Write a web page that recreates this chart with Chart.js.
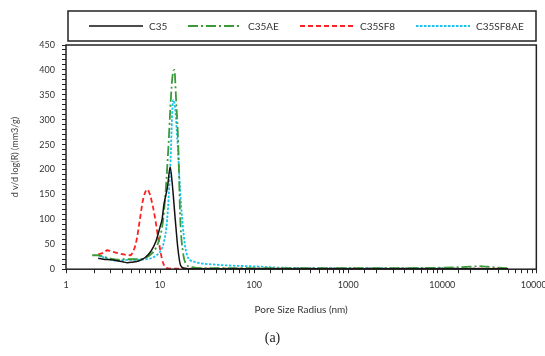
<!DOCTYPE html>
<html>
<head>
<meta charset="utf-8">
<script src="https://cdn.jsdelivr.net/npm/chart.js@4.4.0/dist/chart.umd.min.js"></script>
<style>
    html, body { margin: 0; padding: 0; background: #fff; overflow: hidden; }
    #wrap { position: relative; width: 558px; height: 356px; }
    #caption { position: absolute; left: 0; width: 545px; top: 330px; text-align: center;
        font-family: 'Liberation Serif', serif; font-size: 14px; color: #222; }
</style>
</head>
<body>
<div id="wrap">
    <canvas id="psdChart" width="558" height="356"></canvas>
    <div id="caption">(a)</div>
</div>
<script>
// pore size radius (nm) / dv/dlog(R)
const seriesNames = ['C35', 'C35AE', 'C35SF8', 'C35SF8AE'];

const c35X = [2.2, 2.5, 3, 3.5, 4, 4.5, 5, 6, 7, 8, 9, 10, 10.5, 11, 12, 12.8, 13.5, 14.5, 15.5, 16.5, 18, 20, 30, 100, 1000, 10000, 50000];
const c35Y = [22, 20, 19, 17, 15, 13, 14, 17, 24, 36, 55, 85, 100, 130, 165, 205, 170, 100, 40, 8, 2, 1, 1, 1, 1, 1, 1];

const c35aeX = [1.9, 2.2, 2.5, 3, 3.5, 4, 5, 6, 7, 8, 9, 10, 10.8, 11.5, 12.3, 13, 13.6, 14.2, 14.8, 15.6, 16.4, 17.5, 19, 22, 30, 100, 1000, 10000, 15000, 20000, 25000, 30000, 40000, 50000];
const c35aeY = [28, 28, 25, 21, 19, 20, 20, 20, 23, 30, 42, 65, 100, 160, 250, 340, 390, 400, 340, 250, 100, 35, 10, 4, 2, 2, 2, 3, 4, 5, 6, 5, 3, 2];

const c35sf8X = [2.2, 2.5, 2.75, 3, 3.6, 4, 4.8, 5.3, 5.7, 6.1, 6.6, 7.3, 7.8, 8.4, 8.9, 9.6, 10.5, 11.5, 13, 20, 100, 1000, 10000, 50000];
const c35sf8Y = [30, 33, 38, 36, 32, 30, 28, 40, 64, 100, 140, 160, 150, 125, 100, 60, 20, 3, 1, 1, 1, 1, 1, 1];

const c35sf8aeX = [2.2, 2.5, 3, 3.5, 4, 5, 6, 7, 8, 9, 10, 11, 11.9, 12.8, 13.8, 14.5, 15.5, 16.3, 17.2, 18.5, 20, 23, 27, 40, 60, 92, 200, 1000, 10000, 30000];
const c35sf8aeY = [28, 24, 19, 17, 18, 19, 19, 20, 22, 27, 35, 55, 100, 200, 340, 320, 240, 160, 100, 45, 22, 15, 12, 9, 7, 6, 3, 2, 2, 1];

const yTicksMajor = [0, 50, 100, 150, 200, 250, 300, 350, 400, 450];
const xTicksMajor = [1, 10, 100, 1000, 10000, 100000];

function toPoints(xs, ys) {
    return xs.map((x, i) => ({ x: x, y: ys[i] }));
}

const lineStyles = [
    { color: '#111111', dash: [], width: 1.5 },
    { color: '#3a9a3a', dash: [10, 3, 2, 3], width: 1.8 },
    { color: '#ff2020', dash: [5, 3], width: 1.8 },
    { color: '#19c3f0', dash: [2.5, 1.5], width: 1.8 }
];

// legend in a framed box above the plot + frame round the plot area
const framePlugin = {
    id: 'frame',
    afterDraw(chart) {
        const ctx = chart.ctx;
        const a = chart.chartArea;
        ctx.save();
        ctx.strokeStyle = '#222';
        ctx.lineWidth = 1.5;
        ctx.strokeRect(a.left, a.top, a.right - a.left, a.bottom - a.top);

        ctx.lineWidth = 1.5;
        ctx.strokeRect(68, 11, 468, 30);

        const itemX = [89, 188, 300, 416];
        ctx.font = '10px Lato';
        ctx.textBaseline = 'middle';
        seriesNames.forEach((name, i) => {
            const s = lineStyles[i];
            ctx.beginPath();
            ctx.setLineDash(s.dash);
            ctx.strokeStyle = s.color;
            ctx.lineWidth = s.width;
            ctx.moveTo(itemX[i], 26);
            ctx.lineTo(itemX[i] + 54, 26);
            ctx.stroke();
            ctx.setLineDash([]);
            ctx.fillStyle = '#333';
            ctx.fillText(name, itemX[i] + 60, 26.5);
        });
        ctx.restore();
    }
};

document.addEventListener('DOMContentLoaded', function () {
    const ctx = document.getElementById('psdChart').getContext('2d');

    new Chart(ctx, {
        type: 'scatter',
        data: {
            datasets: [
                [c35X, c35Y], [c35aeX, c35aeY], [c35sf8X, c35sf8Y], [c35sf8aeX, c35sf8aeY]
            ].map((d, i) => ({
                label: seriesNames[i],
                data: toPoints(d[0], d[1]),
                showLine: true,
                borderColor: lineStyles[i].color,
                borderDash: lineStyles[i].dash,
                borderWidth: lineStyles[i].width,
                pointRadius: 0,
                cubicInterpolationMode: 'monotone',
                fill: false
            }))
        },
        options: {
            responsive: false,
            animation: false,
            layout: { padding: { top: 45, bottom: 40, left: 10, right: 0 } },
            plugins: {
                legend: { display: false },
                tooltip: { enabled: false }
            },
            scales: {
                x: {
                    type: 'logarithmic',
                    min: 1,
                    max: 100000,
                    border: { display: false },
                    grid: {
                        drawOnChartArea: false,
                        tickLength: 4,
                        tickColor: '#222',
                        tickWidth: 1
                    },
                    ticks: {
                        autoSkip: false,
                        maxRotation: 0,
                        color: '#333',
                        font: { family: 'Lato', size: 9 },
                        padding: 6,
                        callback: function (v) {
                            return xTicksMajor.includes(v) ? String(v) : '';
                        }
                    },
                    title: {
                        display: true,
                        text: 'Pore Size Radius (nm)',
                        color: '#333',
                        font: { family: 'Lato', size: 10 },
                        padding: { top: 8, bottom: 0 }
                    }
                },
                y: {
                    min: 0,
                    max: 450,
                    border: { display: false },
                    afterFit: function (scale) { scale.width = 56; },
                    grid: {
                        drawOnChartArea: false,
                        tickLength: 4,
                        tickColor: '#222',
                        tickWidth: 1
                    },
                    ticks: {
                        stepSize: 10,
                        autoSkip: false,
                        color: '#333',
                        font: { family: 'Lato', size: 9 },
                        padding: 7,
                        callback: function (v) {
                            return yTicksMajor.includes(v) ? String(v) : '';
                        }
                    },
                    title: {
                        display: true,
                        text: 'd v/d log(R) (mm3/g)',
                        color: '#444',
                        font: { family: 'Lato', size: 9 },
                        padding: { top: 0, bottom: 4 }
                    }
                }
            }
        },
        plugins: [framePlugin]
    });
});
</script>
</body>
</html>
